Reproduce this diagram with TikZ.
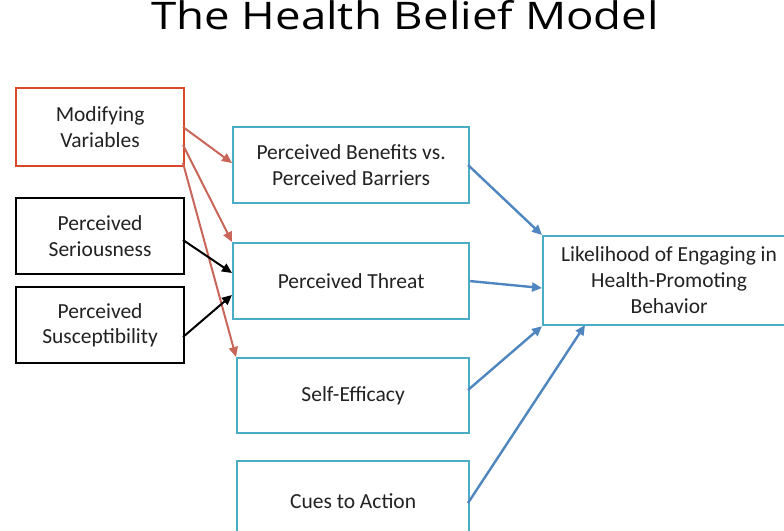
\documentclass[tikz,border=0pt]{standalone}
\usepackage{fontspec}
\setmainfont{Carlito}
\newfontfamily\titlefont{Open Sans}
\usetikzlibrary{arrows.meta}
\definecolor{redbox}{HTML}{D9472B}
\definecolor{redarr}{HTML}{C9665A}
\definecolor{cyanbox}{HTML}{4BACC6}
\definecolor{bluearr}{HTML}{4F86C0}
\definecolor{txt}{HTML}{222222}
\begin{document}
\begin{tikzpicture}[x=1pt,y=-1pt,
  box/.style={draw, line width=2.2pt, fill=white, text=txt, font=\fontsize{21.5}{25.5}\selectfont, align=center, inner sep=0pt, anchor=north west},
  redb/.style={box, draw=redbox},
  blkb/.style={box, draw=black},
  cyb/.style={box, draw=cyanbox},
  rarr/.style={draw=redarr, line width=2pt, -{Triangle[length=10pt,width=9pt]}},
  barr/.style={draw=black, line width=2pt, -{Triangle[length=10pt,width=9pt]}},
  uarr/.style={draw=bluearr, line width=2.4pt, -{Triangle[length=10pt,width=9pt]}}]
\clip (0,0) rectangle (784,530);
\fill[white] (0,0) rectangle (784,530);
\node[text=black, font=\titlefont\fontsize{38}{44}\selectfont, anchor=base, inner sep=0pt, xscale=1.2] (title) at (405,29.5) {The Health Belief Model};
\node[redb, minimum width=168pt, minimum height=78pt] (mod) at (15,87) {Modifying\\Variables};
\node[blkb, minimum width=168pt, minimum height=76pt] (ser) at (15,197) {Perceived\\Seriousness};
\node[blkb, minimum width=168pt, minimum height=76pt] (sus) at (15,286) {Perceived\\Susceptibility};
\node[cyb, minimum width=236pt, minimum height=76pt] (ben) at (232,126) {Perceived Benefits vs.\\Perceived Barriers};
\node[cyb, minimum width=236pt, minimum height=76pt] (thr) at (232,242) {Perceived Threat};
\node[cyb, minimum width=232pt, minimum height=75pt] (eff) at (236,357) {Self-Efficacy};
\node[cyb, minimum width=232pt, minimum height=80pt] (cue) at (236,460) {Cues to Action};
\node[cyb, minimum width=252pt, minimum height=89pt, font=\fontsize{21.5}{26}\selectfont] (lik) at (542,235) {Likelihood of Engaging in\\Health-Promoting\\Behavior};
\coordinate (m1) at (183,127);
\coordinate (m2) at (183,145);
\coordinate (m3) at (183,163);
\draw[rarr] (m1) -- (232,163);
\draw[rarr] (m2) -- (thr.north west);
\draw[rarr] (m3) -- (eff.north west);
\draw[barr] (183,240) -- (232,273);
\draw[barr] (183,337) -- (232,295);
\draw[uarr] (468,165) -- (lik.north west);
\draw[uarr] (thr.east) -- (542,288);
\draw[uarr] (468,390) -- (lik.south west);
\draw[uarr] (468,503) -- (585,325);
\end{tikzpicture}
\end{document}
